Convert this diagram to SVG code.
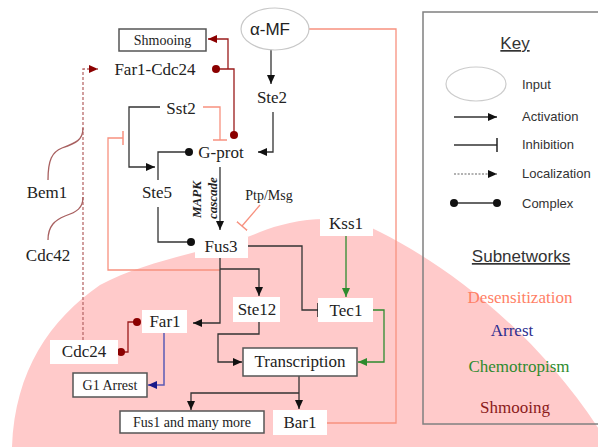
<svg xmlns="http://www.w3.org/2000/svg" width="598" height="447" viewBox="0 0 598 447">
<style>
.t{font-family:"Liberation Serif","Times New Roman",serif;font-size:17px;fill:#222;text-anchor:middle}
.ts{font-family:"Liberation Serif","Times New Roman",serif;font-size:14px;fill:#222;text-anchor:middle}
.sans{font-family:"Liberation Sans",Arial,sans-serif;fill:#333}
.wb{fill:#fff;stroke:none}
.bx{fill:#fff;stroke:#555;stroke-width:1.5}
.k{fill:none;stroke:#333;stroke-width:1.3}
.p{fill:none;stroke:#f7917f;stroke-width:1.3}
.r{fill:none;stroke:#9a1b1b;stroke-width:1.3}
.g{fill:none;stroke:#2e8b2e;stroke-width:1.3}
.b{fill:none;stroke:#5b5bb5;stroke-width:1.5}
.br{fill:none;stroke:#a86060;stroke-width:1.3}
</style>
<defs>
<marker id="ak" markerUnits="userSpaceOnUse" markerWidth="9" markerHeight="8" refX="9" refY="4" orient="auto"><path d="M0,0L9,4L0,8Z" fill="#111"/></marker>
<marker id="ar" markerUnits="userSpaceOnUse" markerWidth="9" markerHeight="8" refX="9" refY="4" orient="auto"><path d="M0,0L9,4L0,8Z" fill="#8b0000"/></marker>
<marker id="ag" markerUnits="userSpaceOnUse" markerWidth="9" markerHeight="8" refX="9" refY="4" orient="auto"><path d="M0,0L9,4L0,8Z" fill="#2e8b2e"/></marker>
<marker id="ab" markerUnits="userSpaceOnUse" markerWidth="9" markerHeight="8" refX="9" refY="4" orient="auto"><path d="M0,0L9,4L0,8Z" fill="#1a1a8a"/></marker>
<marker id="bp" markerUnits="userSpaceOnUse" markerWidth="3" markerHeight="14" refX="1.5" refY="7" orient="auto"><path d="M1.5,0V14" stroke="#f7917f" stroke-width="1.5"/></marker>
<marker id="bk" markerUnits="userSpaceOnUse" markerWidth="3" markerHeight="14" refX="1.5" refY="7" orient="auto"><path d="M1.5,0V14" stroke="#222" stroke-width="1.5"/></marker>
<marker id="dk" markerUnits="userSpaceOnUse" markerWidth="10" markerHeight="10" refX="5" refY="5"><circle cx="5" cy="5" r="4" fill="#111"/></marker>
<marker id="dr" markerUnits="userSpaceOnUse" markerWidth="10" markerHeight="10" refX="5" refY="5"><circle cx="5" cy="5" r="4" fill="#8b0000"/></marker>
</defs>

<path id="blob" d="M12,447 C15,370 50,320 100,285 C150,258 220,250 260,232 C290,220 340,210 380,232 C440,262 540,330 610,447 Z" fill="#ffcaca"/>

<g id="key">
<rect x="423" y="12" width="185" height="412" fill="none" stroke="#808080" stroke-width="1.5"/>
<text class="sans" x="515" y="49" font-size="17" text-anchor="middle" text-decoration="underline">Key</text>
<ellipse cx="476" cy="84" rx="30" ry="17" fill="none" stroke="#ccc" stroke-width="1.2"/>
<text class="sans" x="522" y="89" font-size="13">Input</text>
<path d="M454,117H497" class="k" marker-end="url(#ak)"/>
<text class="sans" x="522" y="121" font-size="13">Activation</text>
<path d="M454,145H497" class="k" marker-end="url(#bk)"/>
<text class="sans" x="522" y="149" font-size="13">Inhibition</text>
<path d="M454,174H497" fill="none" stroke="#999" stroke-width="1.3" stroke-dasharray="2,1.5" marker-end="url(#ak)"/>
<text class="sans" x="522" y="178" font-size="13">Localization</text>
<path d="M454,203H497" class="k" marker-start="url(#dk)" marker-end="url(#dk)"/>
<text class="sans" x="522" y="208" font-size="13">Complex</text>
<text class="sans" x="521" y="262" font-size="17" text-anchor="middle" text-decoration="underline">Subnetworks</text>
<text class="t" x="520" y="303" style="fill:#ff7f66">Desensitization</text>
<text class="t" x="512" y="336" style="fill:#2e2e8f">Arrest</text>
<text class="t" x="519" y="372" style="fill:#2e8b2e">Chemotropism</text>
<text class="t" x="515" y="413" style="fill:#8b1a1a">Shmooing</text>
</g>

<g id="connectors">
<path d="M271,42V84" class="k" marker-end="url(#ak)"/>
<path d="M273,112V152H258" class="k" marker-end="url(#ak)"/>
<path d="M220,167V230" class="k" marker-end="url(#ak)"/>
<path d="M189,152H158V180" class="k" marker-start="url(#dk)"/>
<path d="M158,207V242H191" class="k" marker-end="url(#dk)"/>
<path d="M160,107H129V167H155" class="k" marker-end="url(#ak)"/>
<path d="M203,107H220V140" class="p" marker-end="url(#bp)"/>
<path d="M220,270H108V138H123" class="p" marker-end="url(#bp)"/>
<path d="M260,205L242,226" class="p" marker-end="url(#bp)"/>
<path d="M248,246H302V310H318" class="k" marker-end="url(#bk)"/>
<path d="M220,258V323H193" class="k" marker-end="url(#ak)"/>
<path d="M220,269H259V296" class="k" marker-end="url(#ak)"/>
<path d="M346,235V297" class="g" marker-end="url(#ag)"/>
<path d="M373,310H384V362H358" class="g" marker-end="url(#ag)"/>
<path d="M259,322V334H218V362H242" class="k" marker-end="url(#ak)"/>
<path d="M299,376V409" class="k" marker-end="url(#ak)"/>
<path d="M299,393H191V410" class="k" marker-end="url(#ak)"/>
<path d="M327,423H396V29H300" class="p" marker-end="url(#bp)"/>
<path d="M164,333V385H148" class="b" marker-end="url(#ab)"/>
<path d="M121,352H128V322H137" class="r" marker-start="url(#dr)" marker-end="url(#dr)"/>
<path d="M83,340V69H98" fill="none" stroke="#b86a6a" stroke-width="1.3" stroke-dasharray="3,2" marker-end="url(#ar)"/>
<path d="M216,69H234V135" class="r" marker-start="url(#dr)" marker-end="url(#dr)"/>
<path d="M228,69V39H208" class="r" marker-end="url(#ar)"/>
<path d="M48,180C48,160 52,152 62,148C76,143 83,140 83,128" class="br"/>
<path d="M48,240C48,226 55,220 65,216C77,212 83,208 83,197" class="br"/>
</g>

<g id="n-amf"><ellipse cx="275" cy="29" rx="34" ry="21" fill="#fff" stroke="#c8c8c8" stroke-width="1.2"/>
<text class="sans" x="270" y="35" font-size="17" text-anchor="middle" style="fill:#222">α-MF</text></g>
<g id="n-shmooing"><rect class="bx" x="119" y="29" width="87" height="22"/><text class="ts" x="162.5" y="45">Shmooing</text></g>
<g id="n-far1cdc24"><text class="t" x="155" y="75">Far1-Cdc24</text></g>
<g id="n-ste2"><text class="t" x="272" y="103">Ste2</text></g>
<g id="n-sst2"><text class="t" x="181" y="114">Sst2</text></g>
<g id="n-gprot"><text class="t" x="221" y="158">G-prot</text></g>
<g id="n-ste5"><text class="t" x="157" y="198">Ste5</text></g>
<g id="n-bem1"><text class="t" x="47" y="198">Bem1</text></g>
<g id="n-cdc42"><text class="t" x="48" y="261">Cdc42</text></g>
<g id="n-mapk"><text transform="translate(201,218) rotate(-90)" font-family="Liberation Serif, serif" font-size="13" font-style="italic" font-weight="bold" fill="#222">MAPK</text>
<text transform="translate(217,219) rotate(-90)" font-family="Liberation Serif, serif" font-size="13" font-style="italic" font-weight="bold" fill="#222">cascade</text></g>
<g id="n-ptp"><text class="ts" x="269" y="200">Ptp/Msg</text></g>
<g id="n-fus3"><rect class="wb" x="195" y="237" width="53" height="21"/><text class="t" x="221" y="252">Fus3</text></g>
<g id="n-kss1"><rect class="wb" x="320" y="215" width="53" height="21"/><text class="t" x="346" y="229">Kss1</text></g>
<g id="n-ste12"><rect class="wb" x="233" y="297" width="47" height="25"/><text class="t" x="257" y="315">Ste12</text></g>
<g id="n-tec1"><rect class="wb" x="318" y="298" width="55" height="24"/><text class="t" x="346" y="316">Tec1</text></g>
<g id="n-far1"><rect class="wb" x="142" y="310" width="45" height="23"/><text class="t" x="165" y="327">Far1</text></g>
<g id="n-cdc24"><rect class="wb" x="50" y="340" width="68" height="24"/><text class="t" x="84" y="357">Cdc24</text></g>
<g id="n-transcription"><rect class="bx" x="243" y="348" width="114" height="28"/><text class="t" x="300" y="367" font-size="18">Transcription</text></g>
<g id="n-g1"><rect class="bx" x="73" y="373" width="74" height="24"/><text class="ts" x="110" y="390">G1 Arrest</text></g>
<g id="n-fus1"><rect class="bx" x="120" y="411" width="144" height="22"/><text class="ts" x="192" y="427">Fus1 and many more</text></g>
<g id="n-bar1"><rect class="wb" x="273" y="410" width="54" height="25"/><text class="t" x="300" y="428">Bar1</text></g>
</svg>
